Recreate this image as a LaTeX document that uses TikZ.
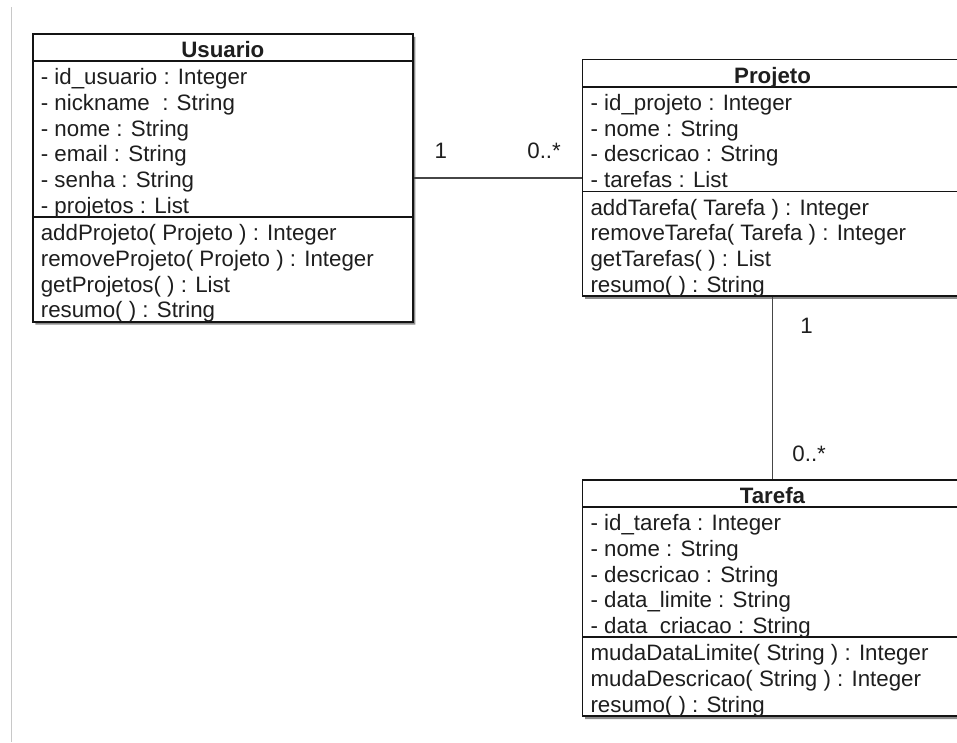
\documentclass[tikz,border=0pt]{standalone}
\usepackage{fontspec}
\setmainfont{Liberation Sans}
\usetikzlibrary{positioning,shapes.multipart,shadows}
\definecolor{umlline}{RGB}{20,20,20}
\definecolor{umltext}{RGB}{30,30,30}
\definecolor{assoc}{RGB}{70,70,70}
\definecolor{frame}{RGB}{200,200,200}
% one compartment line: 25.7pt high, baseline 3pt above its bottom
\newcommand{\umlrow}[1]{\smash{#1}\rule[-3pt]{0pt}{25.7pt}}

\begin{document}
\begin{tikzpicture}[x=1pt,y=-1pt,
 umlclass/.style={rectangle split,rectangle split parts=3,draw=umlline,line width=1.7pt,fill=white,
  minimum width=380pt,inner xsep=8pt,inner ysep=0pt,text=umltext,font=\fontsize{22.3}{25.7}\selectfont,
  rectangle split part align={center,left,left},
  every text node part/.style={align=center},
  every two node part/.style={align=left},
  every three node part/.style={align=left},
  drop shadow={shadow xshift=2.5pt,shadow yshift=-3pt,fill=black,opacity=.45}},
 mult/.style={text=umltext,font=\fontsize{22.3}{26}\selectfont,inner sep=0pt},
 link/.style={draw=assoc,line width=1.7pt}]
\useasboundingbox (0,0) rectangle (957,742);
\draw[frame,line width=1pt] (11,7) -- (11,742);

\node[umlclass,anchor=north west] (usuario) at (32,33) {\umlrow{\textbf{Usuario}}
 \nodepart{two}\umlrow{- id\_usuario : Integer}\\
 \umlrow{- nickname\ \ : String}\\
 \umlrow{- nome : String}\\
 \umlrow{- email : String}\\
 \umlrow{- senha : String}\\
 \umlrow{- projetos : List}
 \nodepart{three}\umlrow{addProjeto( Projeto ) : Integer}\\
 \umlrow{removeProjeto( Projeto ) : Integer}\\
 \umlrow{getProjetos( ) : List}\\
 \umlrow{resumo( ) : String}};

\node[umlclass,right=168pt of usuario] (projeto) {\umlrow{\textbf{Projeto}}
 \nodepart{two}\umlrow{- id\_projeto : Integer}\\
 \umlrow{- nome : String}\\
 \umlrow{- descricao : String}\\
 \umlrow{- tarefas : List}
 \nodepart{three}\umlrow{addTarefa( Tarefa ) : Integer}\\
 \umlrow{removeTarefa( Tarefa ) : Integer}\\
 \umlrow{getTarefas( ) : List}\\
 \umlrow{resumo( ) : String}};

\node[umlclass,below=182pt of projeto] (tarefa) {\umlrow{\textbf{Tarefa}}
 \nodepart{two}\umlrow{- id\_tarefa : Integer}\\
 \umlrow{- nome : String}\\
 \umlrow{- descricao : String}\\
 \umlrow{- data\_limite : String}\\
 \umlrow{- data\_criacao : String}
 \nodepart{three}\umlrow{mudaDataLimite( String ) : Integer}\\
 \umlrow{mudaDescricao( String ) : Integer}\\
 \umlrow{resumo( ) : String}};

% associations with multiplicities
\draw[link] (usuario) -- (projeto)
 node[mult,pos=0,anchor=base west,xshift=20pt,yshift=19pt] (m1) {1}
 node[mult,pos=1,anchor=base east,xshift=-20pt,yshift=19pt] (m2) {0..*};
\draw[link] (projeto) -- (tarefa)
 node[mult,pos=0,anchor=base west,xshift=27pt,yshift=-37pt] (m3) {1}
 node[mult,pos=1,anchor=base west,xshift=19pt,yshift=17pt] (m4) {0..*};
\end{tikzpicture}
\end{document}
